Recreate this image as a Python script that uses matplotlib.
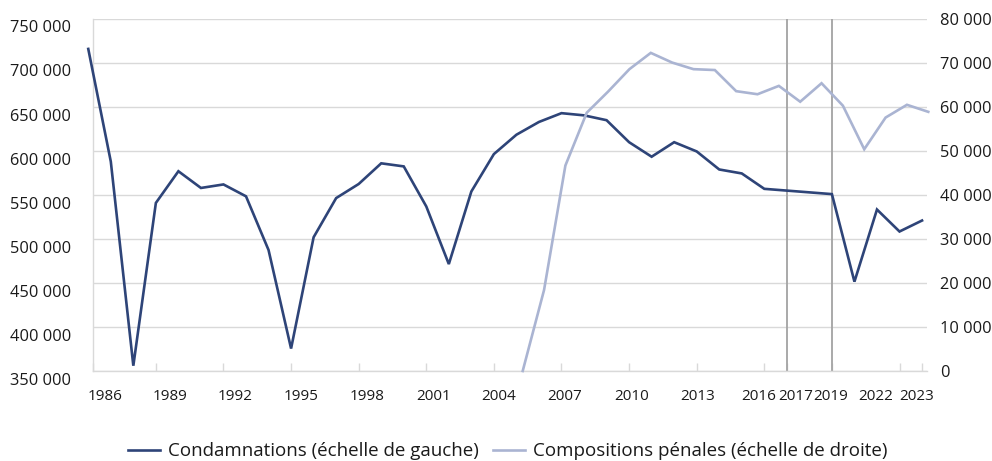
import matplotlib
matplotlib.use("Agg")
import matplotlib.pyplot as plt
import matplotlib.transforms as mtransforms
from matplotlib.ticker import FuncFormatter

# -------- Data --------
years_cond = list(range(1986, 2024))
condamnations = [
    716000, 588000, 356000, 541000, 577000, 558000, 562000, 548500, 487500, 375500,
    502000, 546500, 562500, 586000, 582500, 537000, 471500, 554000, 596500, 618500,
    633000, 643000, 640500, 635000, 610000, 593500, 610000, 599500, 579000, 574500,
    557000, 555000, 553000, 551000, 451500, 533500, 508500, 521000,
]

years_comp = list(range(2004, 2024))
compositions = [
    0, 18400, 46700, 58700, 63500, 68600, 72300, 70100, 68600, 68400,
    63600, 62900, 64800, 61200, 65400, 60300, 50400, 57600, 60500, 58900,
]

tick_years = [1986, 1989, 1992, 1995, 1998, 2001, 2004, 2007, 2010, 2013,
              2016, 2017, 2019, 2022, 2023]
break_years = [2017, 2019]

label_cond = "Condamnations (échelle de gauche)"
label_comp = "Compositions pénales (échelle de droite)"

# -------- Style --------
DARK = "#2e4478"
LIGHT = "#aab4d2"
GRID = "#d9d9d9"
BREAK = "#a3a3a3"
TEXT = "#1a1a1a"

plt.rcParams["font.family"] = ["Open Sans", "DejaVu Sans"]


def fr_thousands(v, pos):
    return f"{int(round(v)):,}".replace(",", " ")


fig = plt.figure(figsize=(9.92, 4.61), dpi=100)
rect = [93 / 992, 1 - 371 / 461, (927 - 93) / 992, (371 - 19) / 461]

# -------- Left axis: condamnations --------
ax = fig.add_axes(rect)
x0, x1 = 1986.21, 2023.22
ax.set_xlim(x0, x1)
ax.set_ylim(350000, 750000)
ax.set_yticks(range(350000, 750001, 50000))
ax.yaxis.set_major_formatter(FuncFormatter(fr_thousands))
ax.grid(axis="y", color=GRID, lw=1, zorder=0)
ax.set_axisbelow(True)

for y in break_years:
    ax.axvline(y, color=BREAK, lw=1.3, zorder=1)

ax.plot(years_cond, condamnations, color=DARK, lw=1.9, zorder=4,
        solid_joinstyle="miter", clip_on=False, label=label_cond)

for side in ["top", "right"]:
    ax.spines[side].set_visible(False)
for side in ["left", "bottom"]:
    ax.spines[side].set_color(GRID)
    ax.spines[side].set_linewidth(1)

# first year sits on the left edge of the plot
ax.set_xticks([max(y, x0) for y in tick_years])
ax.set_xticklabels([str(y) for y in tick_years])
ax.tick_params(axis="x", direction="in", length=6, width=1, color=GRID,
               labelsize=11, labelcolor=TEXT, pad=13)
ax.tick_params(axis="y", length=0, labelsize=11.8, labelcolor=TEXT, pad=16)

# pixel nudges so year labels sit like in the source
nudge = {1986: 12, 1989: 14, 1992: 12, 1995: 10.5, 1998: 8, 2001: 7, 2004: 5,
         2007: 3.5, 2010: 2.5, 2013: 1, 2016: -5.5, 2017: 9, 2019: -1,
         2022: -23.5, 2023: -5}
for yr, lbl in zip(tick_years, ax.get_xticklabels()):
    dx = nudge.get(yr, 0) / 100
    lbl.set_transform(lbl.get_transform()
                      + mtransforms.ScaledTranslation(dx, 0, fig.dpi_scale_trans))
for lbl in ax.get_yticklabels():
    lbl.set_transform(lbl.get_transform()
                      + mtransforms.ScaledTranslation(0, -0.075, fig.dpi_scale_trans))

# -------- Right axis: compositions penales --------
ax2 = fig.add_axes(rect, frameon=False)
ax2.set_xlim(1983.87, 2022.94)
ax2.set_ylim(0, 80000)
ax2.set_yticks(range(0, 80001, 10000))
ax2.yaxis.set_major_formatter(FuncFormatter(fr_thousands))
ax2.yaxis.tick_right()
ax2.xaxis.set_visible(False)
ax2.tick_params(axis="y", length=0, labelsize=11.8, labelcolor=TEXT, pad=9.5)
ax2.plot(years_comp, compositions, color=LIGHT, lw=1.9, zorder=3,
         solid_joinstyle="miter", clip_on=False, label=label_comp)

# -------- Legend --------
h1, l1 = ax.get_legend_handles_labels()
h2, l2 = ax2.get_legend_handles_labels()
fig.legend(h1 + h2, l1 + l2, loc="center", bbox_to_anchor=(0.512, 0.021),
           ncol=2, frameon=False, fontsize=13.5, handlelength=1.7,
           handletextpad=0.45, columnspacing=0.75, labelcolor=TEXT)

fig.savefig("out.png", dpi=100)
